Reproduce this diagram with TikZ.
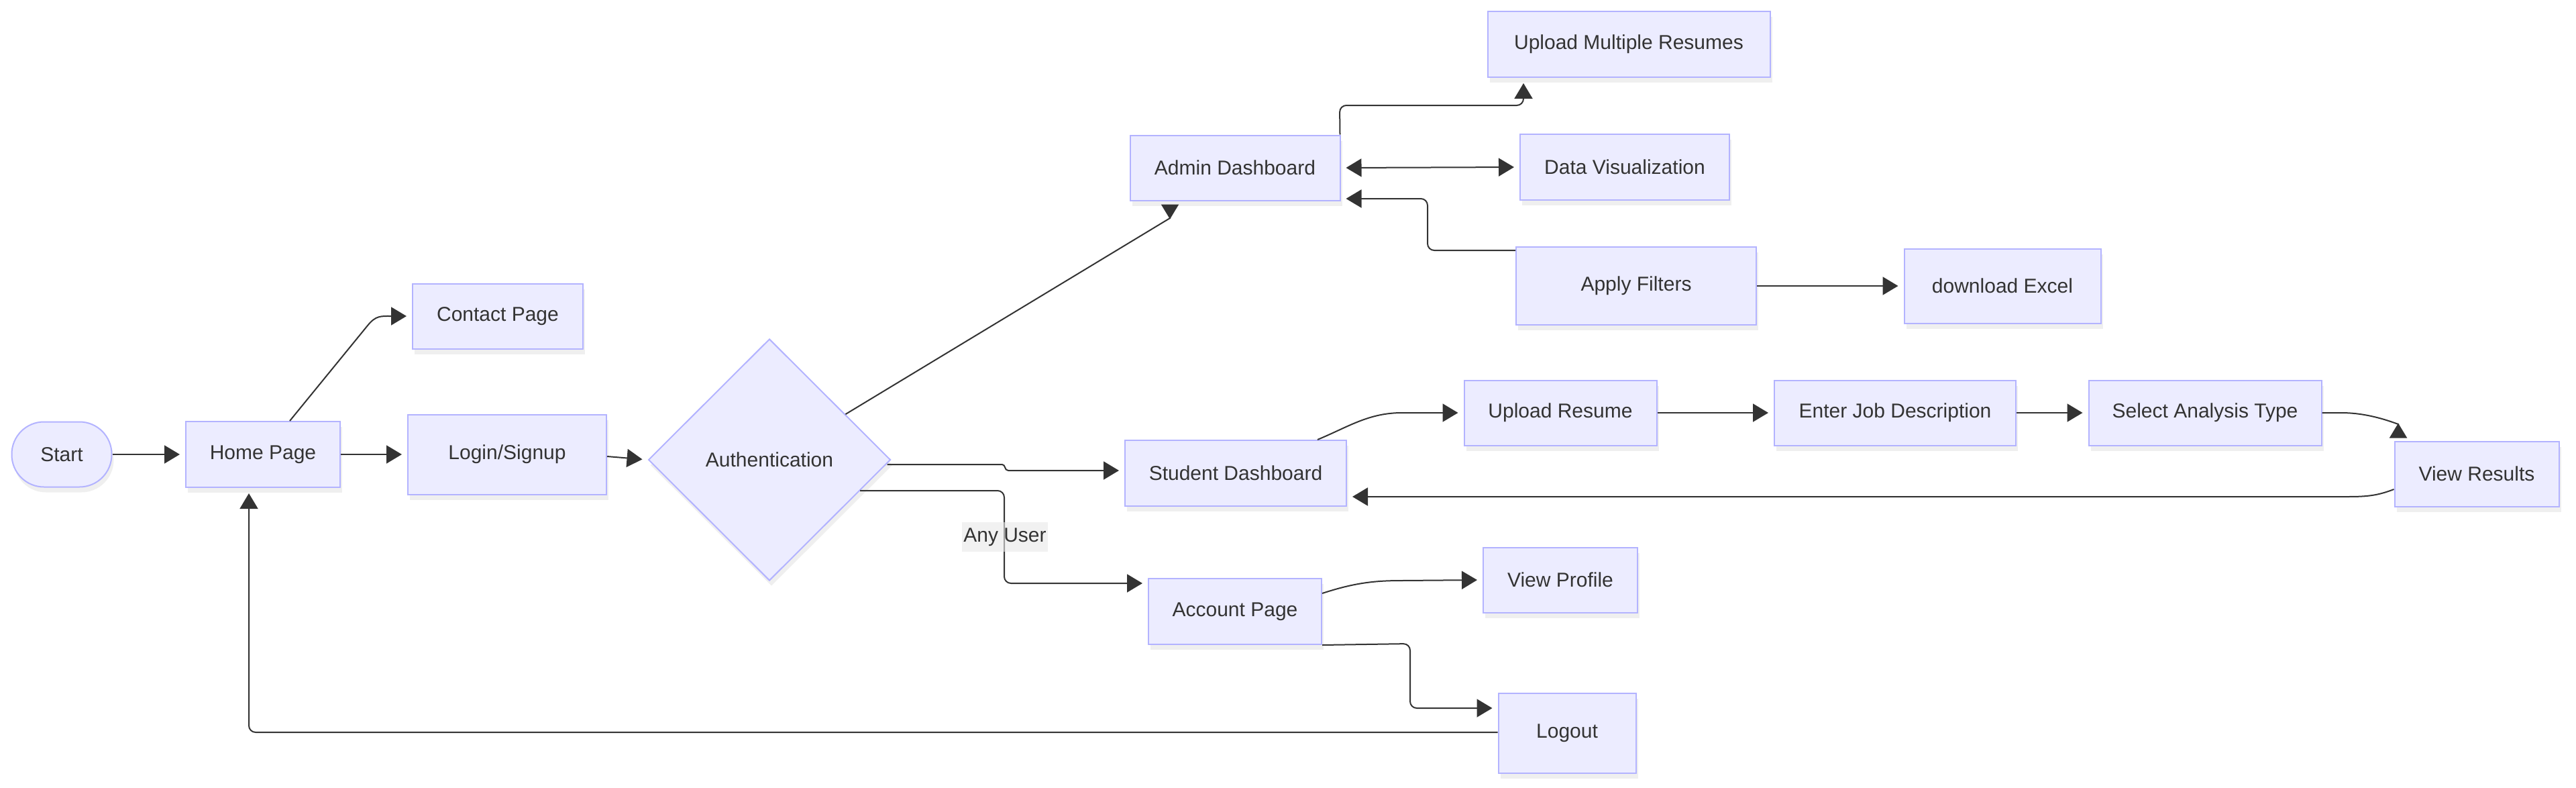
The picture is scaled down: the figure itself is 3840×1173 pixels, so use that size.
\documentclass[tikz,border=0pt]{standalone}
\usepackage{fontspec}
\setmainfont{Liberation Sans}
\usetikzlibrary{shapes.geometric,arrows.meta,shadows,calc}
\definecolor{nfill}{HTML}{ECECFF}
\definecolor{nborder}{HTML}{B3B3FF}
\definecolor{ink}{HTML}{333333}
\definecolor{lblbg}{HTML}{E8E8E8}
\begin{document}
\begin{tikzpicture}[x=0.5pt,y=-0.5pt,
  box/.style={draw=nborder, line width=1pt, fill=nfill, text=ink,
    font=\fontsize{15}{18}\selectfont, inner sep=0pt,
    drop shadow={shadow xshift=1.5pt,shadow yshift=-4pt,opacity=0.13}},
  flow/.style={draw=ink, line width=1pt, -{Triangle[length=11.5pt,width=13.5pt]}, shorten >=4pt},
  backflow/.style={draw=ink, line width=1pt, -{Triangle[reversed,length=11pt,width=13pt]}},
  both/.style={draw=ink, line width=1pt, {Triangle[length=11.5pt,width=13.5pt]}-{Triangle[length=11.5pt,width=13.5pt]}, shorten >=4pt, shorten <=4pt},
  elabel/.style={fill=lblbg, fill opacity=0.6, text opacity=1, text=ink,
    font=\fontsize{15}{18}\selectfont, inner xsep=1pt, inner ysep=0pt, minimum height=22pt}
]
\useasboundingbox (0,0) rectangle (3840,1173);

% nodes
\node[box, rounded corners=24pt, minimum width=74.5pt, minimum height=48.5pt] (start) at (92,677) {Start};
\node[box, minimum width=115pt, minimum height=49pt] (home) at (392,677) {Home Page};
\node[box, minimum width=127pt, minimum height=48.5pt] (contact) at (742,471) {Contact Page};
\node[box, minimum width=148pt, minimum height=59.5pt] (login) at (756,677) {Login/Signup};
\node[box, diamond, aspect=1, minimum width=180.5pt, minimum height=180pt] (auth) at (1147,685) {Authentication};
\node[box, minimum width=156.5pt, minimum height=48.5pt] (admin) at (1841,250) {Admin Dashboard};
\node[box, minimum width=210.5pt, minimum height=49pt] (upmulti) at (2428,66) {Upload Multiple Resumes};
\node[box, minimum width=156pt, minimum height=49pt] (dataviz) at (2422,249) {Data Visualization};
\node[box, minimum width=179pt, minimum height=58pt] (filters) at (2439,426) {Apply Filters};
\node[box, minimum width=146.5pt, minimum height=55.5pt] (excel) at (2985,426) {download Excel};
\node[box, minimum width=165pt, minimum height=49pt] (student) at (1842,705) {Student Dashboard};
\node[box, minimum width=143.5pt, minimum height=48.5pt] (upres) at (2326,615) {Upload Resume};
\node[box, minimum width=180pt, minimum height=48.5pt] (jobdesc) at (2825,615) {Enter Job Description};
\node[box, minimum width=173.5pt, minimum height=48.5pt] (analysis) at (3287,615) {Select Analysis Type};
\node[box, minimum width=122.5pt, minimum height=48.5pt] (results) at (3692,706) {View Results};
\node[box, minimum width=129pt, minimum height=49pt] (account) at (1841,911) {Account Page};
\node[box, minimum width=115pt, minimum height=48.5pt] (profile) at (2326,864) {View Profile};
\node[box, minimum width=102.5pt, minimum height=59.5pt] (logout) at (2336,1092) {Logout};

% connectors
\draw[flow] (start) -- (home);
\draw[flow] ([xshift=20pt]home.north) -- (548,485) .. controls (560,470) and (568,471) .. (582,471) -- (contact.west);
\draw[flow] (home) -- (login);
\draw[flow] ([yshift=-1.5pt]login.east) -- (auth.west);
\draw[backflow] ($(auth.north)!0.625!(auth.east)$) -- (1744,325) -- ([xshift=-48.5pt,yshift=-2.5pt]admin.south);
\draw[flow] ($(auth.east)+(-6,7)$) -- (1494,692) .. controls (1499,692) and (1497,701) .. (1503,701) -- ([yshift=2pt]student.west);
\draw[flow, rounded corners=5pt] ($(auth.east)!0.255!(auth.south)$) -- (1497,731) -- (1497,869) -- ([yshift=21pt]account.west);
\node[elabel] (anyuser) at (1498,800) {Any User};
\draw[flow, rounded corners=5pt] ([xshift=-0.5pt]admin.north east) -- (1997,157) -- (2271,157) -- ([xshift=-78.5pt]upmulti.south);
\draw[both] (admin.east) -- (dataviz.west);
\draw[flow, rounded corners=5pt] ([yshift=26.5pt]filters.west) -- (2128,373) -- (2128,296) -- ([yshift=-23pt]admin.east);
\draw[flow] (filters) -- (excel);
\draw[flow] ([xshift=-22pt]student.north east) .. controls (2010,636) and (2040,615) .. (2090,615) -- (upres.west);
\draw[flow] (upres) -- (jobdesc);
\draw[flow] (jobdesc) -- (analysis);
\draw[backflow] (analysis.east) -- (3490,615) .. controls (3520,615) and (3548,622) .. (3575,632) -- ([xshift=-58.5pt,yshift=2pt]results.north);
\draw[flow] ([yshift=-11.5pt]results.west) .. controls (3545,738) and (3530,740) .. (3500,740) -- ([yshift=-17.5pt]student.east);
\draw[flow] ([yshift=13.5pt]account.east) .. controls (2020,868) and (2050,865) .. (2090,865) -- (profile.west);
\draw[flow, rounded corners=5pt] (account.south east) -- (2102,959) -- (2102,1055) -- ([yshift=18.5pt]logout.west);
\draw[flow, rounded corners=5pt] ([yshift=0.5pt]logout.west) -- (371,1091) -- ([xshift=-10.5pt]home.south);
\end{tikzpicture}
\end{document}
